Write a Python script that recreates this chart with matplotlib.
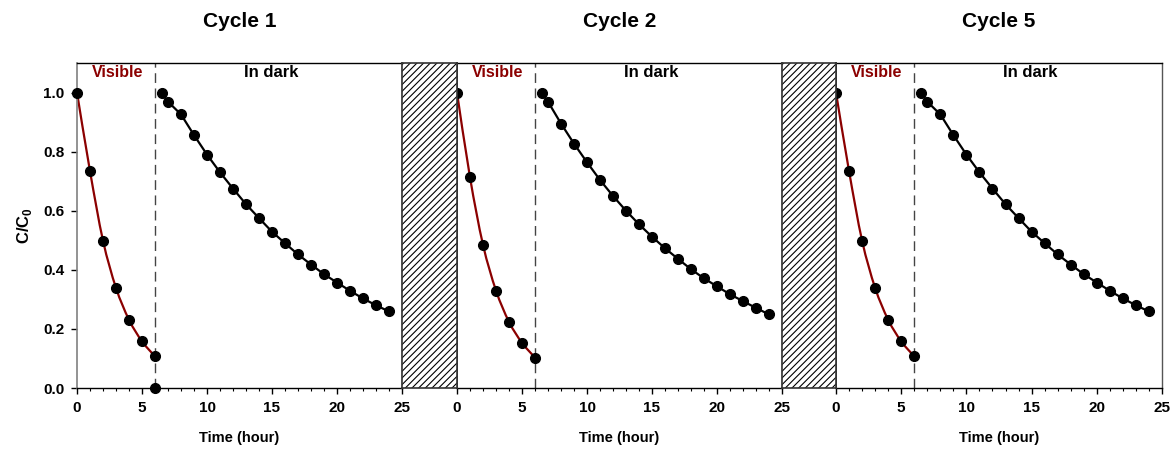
import numpy as np
import matplotlib
matplotlib.use("Agg")
import matplotlib.pyplot as plt
from matplotlib.path import Path
from matplotlib.patches import PathPatch, Rectangle
from matplotlib.ticker import MultipleLocator

plt.rcParams["font.family"] = ["Liberation Sans", "DejaVu Sans"]
plt.rcParams["font.weight"] = "bold"
plt.rcParams["mathtext.fontset"] = "custom"
plt.rcParams["mathtext.rm"] = "Liberation Sans:bold"
plt.rcParams["mathtext.bf"] = "Liberation Sans:bold"
plt.rcParams["hatch.linewidth"] = 0.8

# data
cycles = ["Cycle 1", "Cycle 2", "Cycle 5"]
t_vis = [0, 1, 2, 3, 4, 5, 6]
t_dark = [6.5] + list(range(7, 25))

vis_c1 = [1.0, 0.734, 0.499, 0.339, 0.231, 0.158, 0.107]
vis_c2 = [1.0, 0.713, 0.485, 0.330, 0.224, 0.153, 0.103]
vis_c5 = [1.0, 0.734, 0.499, 0.339, 0.231, 0.158, 0.107]

dark_c1 = [1.0, 0.969, 0.926, 0.856, 0.790, 0.730, 0.675, 0.622, 0.575, 0.529,
           0.490, 0.452, 0.418, 0.385, 0.357, 0.329, 0.303, 0.280, 0.259]
dark_c2 = [1.0, 0.969, 0.895, 0.827, 0.764, 0.704, 0.650, 0.600, 0.554, 0.512,
           0.473, 0.437, 0.402, 0.371, 0.344, 0.317, 0.294, 0.271, 0.249]
dark_c5 = [1.0, 0.969, 0.926, 0.856, 0.790, 0.730, 0.675, 0.622, 0.575, 0.529,
           0.490, 0.452, 0.418, 0.385, 0.357, 0.329, 0.303, 0.280, 0.259]

# stray point at the bottom of cycle 1
extra_t = [6]
extra_c = [0.0]

vis_all = [vis_c1, vis_c2, vis_c5]
dark_all = [dark_c1, dark_c2, dark_c5]

red = "#8b0000"


def smooth_path(x, y):
    # catmull-rom style bezier through the points
    verts = [(x[0], y[0])]
    codes = [Path.MOVETO]
    n = len(x)
    for i in range(n - 1):
        p0 = i - 1 if i > 0 else i
        p3 = i + 2 if i + 2 < n else i + 1
        c1 = (x[i] + (x[i + 1] - x[p0]) / 6, y[i] + (y[i + 1] - y[p0]) / 6)
        c2 = (x[i + 1] - (x[p3] - x[i]) / 6, y[i + 1] - (y[p3] - y[i]) / 6)
        verts += [c1, c2, (x[i + 1], y[i + 1])]
        codes += [Path.CURVE4] * 3
    return Path(verts, codes)


def main():
    W, H = 1174, 454
    fig = plt.figure(figsize=(W / 100, H / 100), dpi=100)
    bottom = (H - 388) / H
    height = 325 / H
    lefts = [77, 457, 836]
    widths = [325, 325, 326]
    gaps = [(402, 55), (782, 54)]

    for k in range(3):
        ax = fig.add_axes([lefts[k] / W, bottom, widths[k] / W, height])
        ax.set_xlim(0, 25)
        ax.set_ylim(0, 1.1)
        ax.xaxis.set_major_locator(MultipleLocator(5))
        ax.xaxis.set_minor_locator(MultipleLocator(1))
        ax.tick_params(axis="x", which="major", direction="out", length=4, width=1,
                       labelsize=11, pad=5)
        ax.tick_params(axis="x", which="minor", direction="out", length=2, width=0.8)
        for lab in ax.get_xticklabels():
            lab.set_fontweight("bold")

        if k == 0:
            ax.set_yticks(np.arange(0, 1.01, 0.2))
            ax.set_yticklabels([f"{v:.1f}" for v in np.arange(0, 1.01, 0.2)],
                               fontweight="bold")
            ax.tick_params(axis="y", direction="out", length=4, width=1,
                           labelsize=11, pad=5)
            ax.set_ylabel(r"C/C$_\mathbf{0}$", fontsize=12, fontweight="bold",
                          labelpad=7)
            ax.spines["left"].set_color("#808080")
        else:
            ax.set_yticks([])
        for s in ["top", "right", "bottom"]:
            ax.spines[s].set_linewidth(1)
        ax.spines["left"].set_linewidth(1.2)
        if k == 2:
            ax.spines["right"].set_color("#555555")

        ax.set_title(cycles[k], fontsize=15, fontweight="bold", pad=26)
        ax.set_xlabel("Time (hour)", fontsize=10.5, fontweight="bold", labelpad=12)

        ax.axvline(6, color="#444444", lw=1, ls=(0, (7, 4)), zorder=1)

        ax.add_patch(PathPatch(smooth_path(t_vis, vis_all[k]), fill=False,
                               edgecolor=red, lw=1.6, zorder=2))
        ax.plot(t_vis, vis_all[k], "o", color="black", ms=7, zorder=3,
                clip_on=False)
        ax.plot(t_dark, dark_all[k], "-o", color="black", lw=1.6, ms=7,
                zorder=3, clip_on=False)
        if k == 0:
            ax.plot(extra_t, extra_c, "o", color="black", ms=7, zorder=3,
                    clip_on=False)

        ax.text(3.15, 1.067, "Visible", color=red, fontsize=11.5, fontweight="bold",
                ha="center", va="center")
        ax.text(14.9, 1.067, "In dark", color="black", fontsize=12,
                fontweight="bold", ha="center", va="center")

    # hatched gaps between cycles
    for gx, gw in gaps:
        gax = fig.add_axes([gx / W, bottom, gw / W, height])
        gax.set_xticks([])
        gax.set_yticks([])
        gax.set_facecolor("white")
        gax.add_patch(Rectangle((0, 0), 1, 1, transform=gax.transAxes,
                                facecolor="white", edgecolor="black", lw=0,
                                hatch="/////"))
        for s in gax.spines.values():
            s.set_linewidth(1.2)
            s.set_color("#333333")

    fig.savefig("out.png", dpi=100)


if __name__ == '__main__':
    main()
